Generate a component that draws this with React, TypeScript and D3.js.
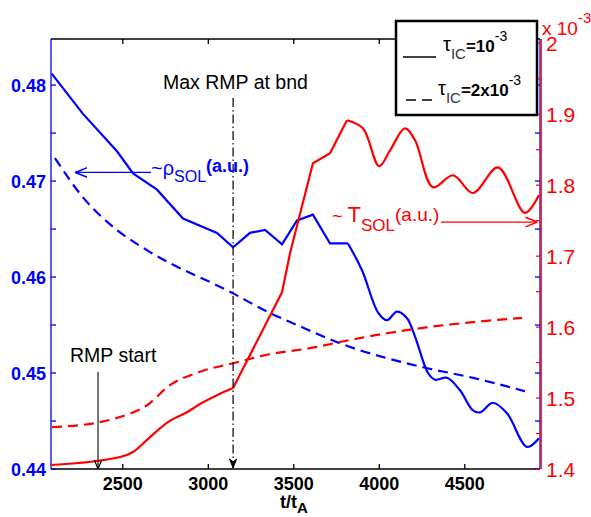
import React from 'react';
import * as d3 from 'd3';

// ---- data (t / t_A) ----
const tRhoSolid = [2084, 2267, 2466, 2560, 2700, 2852, 3051, 3145, 3244, 3332, 3431, 3519, 3612, 3712, 3817, 3899, 3993, 4045, 4104, 4162, 4209, 4285, 4326, 4396, 4472, 4548, 4589, 4665, 4747, 4864, 4934];
const rhoSolid = [0.4812, 0.4770, 0.4731, 0.4708, 0.4691, 0.4661, 0.4646, 0.4631, 0.4646, 0.4649, 0.4634, 0.4659, 0.4665, 0.4635, 0.4635, 0.4607, 0.4563, 0.4555, 0.4564, 0.4557, 0.4538, 0.4500, 0.4493, 0.4495, 0.4482, 0.4461, 0.4459, 0.4469, 0.4458, 0.4423, 0.4432];

const tRhoDashed = [2103, 2267, 2466, 2641, 3145, 3343, 3519, 3770, 4256, 4548, 4852];
const rhoDashed = [0.4724, 0.4683, 0.4649, 0.4628, 0.4583, 0.4564, 0.4550, 0.4531, 0.4506, 0.4495, 0.4481];

const tTSolid = [2080, 2484, 2560, 2659, 2764, 2875, 2951, 3051, 3145, 3431, 3478, 3612, 3712, 3811, 3905, 3999, 4063, 4150, 4209, 4314, 4431, 4548, 4694, 4852, 4934];
const TSolid = [1.4056, 1.4169, 1.424, 1.445, 1.466, 1.480, 1.4915, 1.504, 1.514, 1.649, 1.704, 1.831, 1.845, 1.8915, 1.880, 1.8268, 1.849, 1.880, 1.8634, 1.797, 1.814, 1.789, 1.825, 1.761, 1.786];

const tTDashed = [2086, 2367, 2466, 2659, 2758, 2951, 3145, 3343, 3636, 3770, 4063, 4256, 4548, 4835];
const TDashed = [1.459, 1.466, 1.472, 1.493, 1.515, 1.537, 1.549, 1.561, 1.572, 1.579, 1.592, 1.599, 1.607, 1.613];

const xTicks = [2500, 3000, 3500, 4000, 4500];
const leftTicks = [0.44, 0.45, 0.46, 0.47, 0.48];
const leftMinorTicks = [0.44, 0.445, 0.45, 0.455, 0.46, 0.465, 0.47, 0.475, 0.48];
const rightTicks = [1.4, 1.5, 1.6, 1.7, 1.8, 1.9, 2.0];
const rightTickLabels = ['1.4', '1.5', '1.6', '1.7', '1.8', '1.9', '2'];

const rmpStartT = 2355;
const maxRmpT = 3145;
const rhoArrow = { t: 2222, v: 0.4709 };
const TArrow = { t: 4925, v: 1.748 };

const BLUE = '#0000ff';
const RED = '#ff0000';
const FONT = '"Liberation Sans", Arial, Helvetica, sans-serif';

type Seg = [number, number, d3.CurveFactory];

export default function App() {
  const W = 591, H = 517;
  const L = 51, R = 540, T = 39, B = 469;
  const x = d3.scaleLinear().domain([2080, 4940]).range([L, R]);
  const yL = d3.scaleLinear().domain([0.44, 0.4848]).range([B, T]);
  const yR = d3.scaleLinear().domain([1.4, 2.006]).range([B, T]);

  // piecewise: each segment [from, to, curve]
  const mk = (ts: number[], vs: number[], y: d3.ScaleLinear<number, number>, segs: Seg[]) => {
    const pts: [number, number][] = vs.map((v, i) => [x(ts[i]), y(v)]);
    return segs.map(([a, b, c]) => d3.line().curve(c)(pts.slice(a, b + 1)) || '').join('');
  };

  const rightMinor = d3.range(1.4, 2.0001, 0.05);
  const smooth = d3.curveCatmullRom.alpha(0.5);

  return (
    <svg width={W} height={H} style={{ position: 'absolute', left: 0, top: 0, background: '#fff' }} fontFamily={FONT}>
      <rect x={0} y={0} width={W} height={H} fill="#fff" />
      <defs>
        <marker id="openArrowK" viewBox="0 0 10 10" refX="10" refY="5" markerWidth="9" markerHeight="9" orient="auto" markerUnits="userSpaceOnUse">
          <path d="M0,1 L10,5 L0,9" fill="none" stroke="#000" strokeWidth="1.3" />
        </marker>
        <marker id="fillArrowK" viewBox="0 0 10 10" refX="10" refY="5" markerWidth="11" markerHeight="9" orient="auto" markerUnits="userSpaceOnUse">
          <path d="M0,1 L10,5 L0,9 L3,5 Z" fill="#000" stroke="#000" strokeWidth="1" />
        </marker>
        <marker id="openArrowB" viewBox="0 0 10 10" refX="10" refY="5" markerWidth="12" markerHeight="12" orient="auto" markerUnits="userSpaceOnUse">
          <path d="M0,1 L10,5 L0,9" fill="none" stroke={BLUE} strokeWidth="1.3" />
        </marker>
        <marker id="openArrowR" viewBox="0 0 10 10" refX="10" refY="5" markerWidth="12" markerHeight="12" orient="auto" markerUnits="userSpaceOnUse">
          <path d="M0,1 L10,5 L0,9" fill="none" stroke={RED} strokeWidth="1.3" />
        </marker>
      </defs>

      {/* frame: top and bottom black */}
      <line x1={L} x2={R} y1={T} y2={T} stroke="#000" strokeWidth={1.3} />
      <line x1={L} x2={R} y1={B} y2={B} stroke="#000" strokeWidth={1.3} />
      {xTicks.map((t) => (
        <g key={'xt' + t}>
          <line x1={x(t)} x2={x(t)} y1={B} y2={B - 5} stroke="#000" strokeWidth={1.3} />
          <line x1={x(t)} x2={x(t)} y1={T} y2={T + 5} stroke="#000" strokeWidth={1.3} />
          <text x={x(t)} y={490} textAnchor="middle" fontSize={18} fontWeight="bold" fill="#000">{t}</text>
        </g>
      ))}
      <text x={280} y={508} fontSize={18} fontWeight="bold" fill="#000">t/t<tspan fontSize={15} dy={5}>A</tspan></text>

      {/* left axis (blue) */}
      <line x1={L} x2={L} y1={T} y2={B} stroke={BLUE} strokeWidth={1.3} />
      {leftMinorTicks.map((v) => (
        <g key={'lt' + v}>
          <line x1={L} x2={L + 5} y1={yL(v)} y2={yL(v)} stroke={BLUE} strokeWidth={1.3} />
          <line x1={R} x2={R - 5} y1={yL(v)} y2={yL(v)} stroke={BLUE} strokeWidth={1.3} />
        </g>
      ))}
      {leftTicks.map((v) => (
        <text key={'ll' + v} x={46} y={yL(v) + 6.5} textAnchor="end" fontSize={18} fontWeight="bold" fill={BLUE}>{v.toFixed(2)}</text>
      ))}

      {/* right axis (red) */}
      <line x1={R} x2={R} y1={T} y2={B} stroke={BLUE} strokeWidth={1.3} />
      <line x1={R + 1.2} x2={R + 1.2} y1={T} y2={B} stroke={RED} strokeWidth={1.3} />
      {rightMinor.map((v, i) => (
        <line key={'rm' + i} x1={R} x2={R - 4} y1={yR(v)} y2={yR(v)} stroke={RED} strokeWidth={1.2} />
      ))}
      {rightTicks.map((v, i) => (
        <text key={'rl' + v} x={546} y={yR(v) + 7.5} fontSize={21} fill={RED}>{rightTickLabels[i]}</text>
      ))}
      <text x={542} y={35} fontSize={19} fill={RED}>x 10<tspan fontSize={15} dy={-12}>-3</tspan></text>

      {/* data lines */}
      <path d={mk(tRhoSolid, rhoSolid, yL, [[0, 14, d3.curveLinear], [14, 30, smooth]])} fill="none" stroke={BLUE} strokeWidth={2.2} />
      <path d={mk(tRhoDashed, rhoDashed, yL, [[0, 10, d3.curveMonotoneX]])} fill="none" stroke={BLUE} strokeWidth={2.2} strokeDasharray="10 6" />
      <path d={mk(tTSolid, TSolid, yR, [[0, 8, d3.curveMonotoneX], [8, 13, d3.curveLinear], [13, 24, smooth]])} fill="none" stroke={RED} strokeWidth={2.2} />
      <path d={mk(tTDashed, TDashed, yR, [[0, 13, d3.curveMonotoneX]])} fill="none" stroke={RED} strokeWidth={2.2} strokeDasharray="10 6" />

      {/* annotations */}
      <text x={163} y={89} fontSize={19.5} fill="#000">Max RMP at bnd</text>
      <line x1={x(maxRmpT)} x2={x(maxRmpT)} y1={98} y2={B - 1} stroke="#000" strokeWidth={1.2} strokeDasharray="9 3 1.5 3" markerEnd="url(#fillArrowK)" />

      <text x={70} y={362} fontSize={19.5} fill="#000">RMP start</text>
      <line x1={x(rmpStartT)} x2={x(rmpStartT)} y1={372} y2={B} stroke="#000" strokeWidth={1.1} markerEnd="url(#openArrowK)" />

      <line x1={151} x2={x(rhoArrow.t)} y1={yL(rhoArrow.v)} y2={yL(rhoArrow.v)} stroke={BLUE} strokeWidth={1.3} markerEnd="url(#openArrowB)" />
      <text x={151} y={175} fontSize={20} fill={BLUE}>~ρ<tspan fontSize={16} dy={7}>SOL</tspan><tspan fontSize={18} fontWeight="bold" dy={-10}>(a.u.)</tspan></text>

      <line x1={441} x2={x(TArrow.t)} y1={yR(TArrow.v)} y2={yR(TArrow.v)} stroke={RED} strokeWidth={1.3} markerEnd="url(#openArrowR)" />
      <text x={332} y={222} fontSize={22} fill={RED}><tspan fontSize={18}>~ </tspan>T<tspan fontSize={17} dy={9}>SOL</tspan><tspan fontSize={19} dy={-10}>(a.u.)</tspan></text>

      {/* legend */}
      <rect x={396} y={21} width={141} height={94} fill="#fff" stroke="#000" strokeWidth={2.5} />
      <line x1={403} x2={436} y1={57} y2={57} stroke="#000" strokeWidth={1.6} />
      <line x1={406} x2={434} y1={100} y2={100} stroke="#000" strokeWidth={1.6} strokeDasharray="10 6" />
      <text x={443} y={51} fontSize={20} fill="#000">τ<tspan fontSize={15} dy={8} fill="#333">IC</tspan><tspan fontSize={17} fontWeight="bold" dy={-7}>=10</tspan><tspan fontSize={14} dy={-11}>-3</tspan></text>
      <text x={438} y={95} fontSize={20} fill="#000">τ<tspan fontSize={15} dy={8} fill="#333">IC</tspan><tspan fontSize={17} fontWeight="bold" dy={-7}>=2x10</tspan><tspan fontSize={14} dy={-11}>-3</tspan></text>
    </svg>
  );
}
